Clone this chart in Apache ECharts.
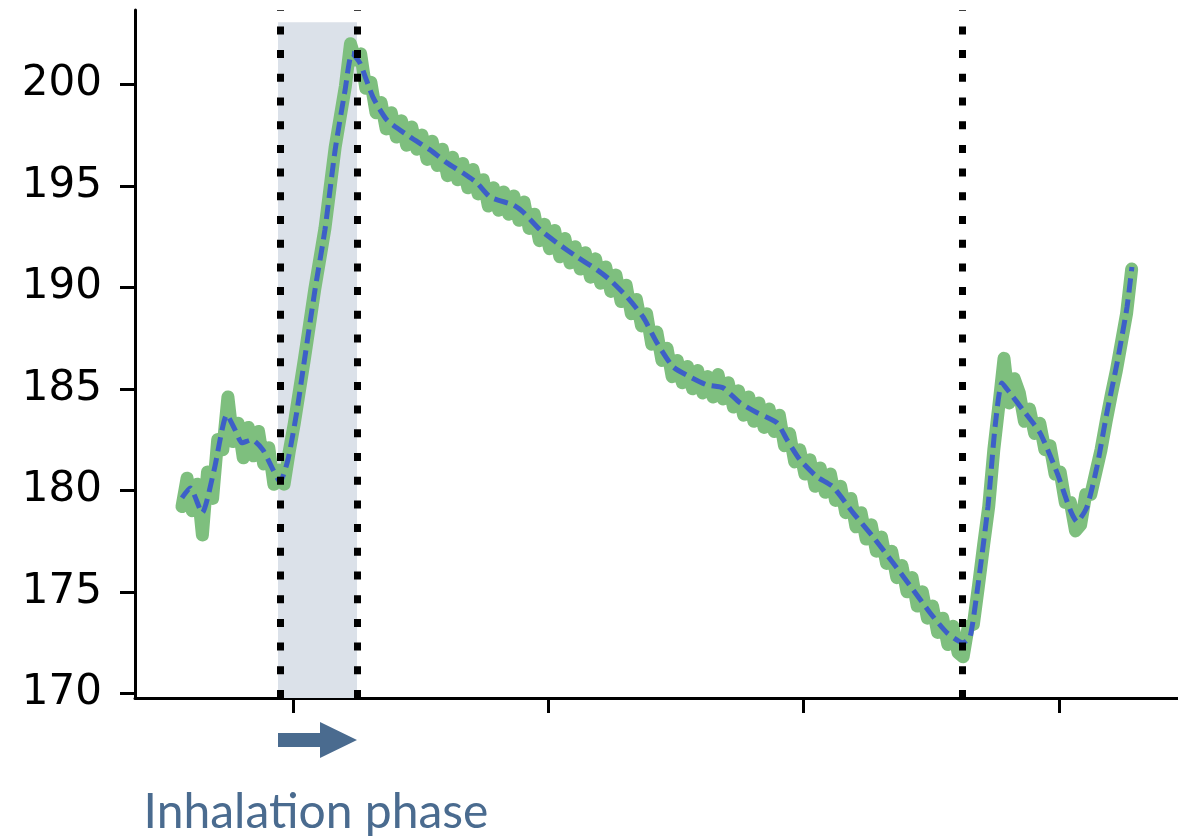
<!DOCTYPE html>
<html><head><meta charset="utf-8">
<script src="https://cdn.jsdelivr.net/npm/echarts@6/dist/echarts.min.js"></script>
<style>html,body{margin:0;padding:0;background:#fff}#c{width:1178px;height:839px}</style>
</head><body><div id="c"></div>
<script>
// y tick values and (unlabelled) x tick positions
const yTicks = [170,175,180,185,190,195,200];
const xTicks = [1,2,3,4];

// smoothed (blue dashed) signal
const smoothX = [0.565,0.597,0.644,0.691,0.741,0.773,0.800,0.839,0.882,0.922,0.949,0.980,1.016,1.039,1.086,1.125,1.165,1.204,1.231,1.262,1.313,1.368,1.458,1.537,1.603,1.666,1.721,1.772,1.862,1.901,1.968,2.034,2.112,2.191,2.242,2.308,2.371,2.426,2.489,2.555,2.622,2.684,2.751,2.818,2.896,2.935,2.986,3.053,3.115,3.194,3.272,3.350,3.429,3.495,3.562,3.624,3.652,3.679,3.722,3.750,3.777,3.808,3.859,3.926,3.993,4.044,4.071,4.110,4.149,4.188,4.228,4.267,4.286];
const smoothY = [179.63,180.12,178.89,181.01,183.72,182.98,182.34,182.49,181.99,181.01,180.42,181.50,183.96,185.93,189.87,192.83,196.77,199.72,201.54,201.05,199.37,198.24,197.41,196.77,196.13,195.63,195.14,194.45,194.06,193.71,192.83,192.19,191.50,190.86,190.36,189.53,188.54,187.26,186.08,185.59,185.19,185.05,184.31,183.82,183.32,182.49,181.50,180.66,180.17,178.89,177.71,176.43,175.10,173.97,172.98,172.49,172.79,174.95,179.19,183.13,185.29,184.80,183.96,182.83,180.86,179.04,178.45,179.19,181.16,183.82,186.28,189.04,191.00];

// raw (green) signal, sampled every rawStep from rawStart
const rawStart = 0.565, rawStep = 0.02;
const rawY = [
179.2,180.6,179.0,180.3,177.8,180.9,179.6,182.5,182.0,184.6,
182.4,183.3,181.6,183.1,181.7,182.9,181.3,182.1,180.3,181.0,
180.3,181.9,183.3,184.9,186.5,188.2,189.9,191.4,192.9,194.9,
196.9,198.4,199.9,202.0,201.2,201.5,199.8,200.1,198.6,199.1,
197.8,198.6,197.4,198.2,197.0,197.9,196.8,197.5,196.3,197.2,
196.0,196.8,195.5,196.4,195.3,196.1,194.9,195.8,194.6,195.3,
194.0,194.9,193.8,194.7,193.6,194.5,193.3,194.2,192.9,193.6,
192.3,193.1,191.9,192.8,191.5,192.4,191.2,192.0,190.9,191.7,
190.5,191.4,190.2,191.0,189.8,190.6,189.3,190.1,188.7,189.4,
188.1,188.7,187.2,187.8,186.4,187.0,185.6,186.4,185.3,186.1,
185.0,185.9,184.8,185.6,184.6,185.7,184.5,185.3,184.1,184.9,
183.7,184.6,183.4,184.3,183.1,184.0,182.9,183.7,182.2,182.8,
181.4,182.0,180.8,181.5,180.2,181.1,179.9,180.8,179.5,180.2,
178.9,179.6,178.2,178.9,177.6,178.3,177.0,177.7,176.4,177.0,
175.7,176.3,175.0,175.7,174.3,175.0,173.7,174.3,173.0,173.7,
172.4,173.3,172.0,171.8,173.3,173.4,175.3,177.3,179.2,182.0,
184.2,186.5,184.3,185.5,184.8,183.4,184.0,182.8,183.3,182.0,
182.2,180.8,180.9,179.4,179.4,178.0,178.3,179.8,179.8,180.9,
182.0,183.4,184.7,185.9,187.3,188.7,190.9];

// phase markers
const phaseLines = [0.949, 1.247, 3.624];
const inhalation = [0.9412, 1.2507];
const inhalationTop = 203.06;
const annotation = 'Inhalation phase';

const yMin = 169.77, yMax = 203.66, xMin = 0.381, xMax = 4.4665;

const chart = echarts.init(document.getElementById('c'), null, {renderer:'canvas'});
const rawData = rawY.map((v,i)=>[rawStart + i*rawStep, v]);
const smoothData = smoothX.map((x,i)=>[x, smoothY[i]]);
const accent = '#4a6b8f';

chart.setOption({
  animation:false,
  backgroundColor:'#ffffff',
  grid:{left:135, right:0, top:10, bottom:141},
  xAxis:{
    type:'value', min:xMin, max:xMax,
    axisLine:{lineStyle:{color:'#000', width:3}},
    axisTick:{show:true, customValues:xTicks, length:15, lineStyle:{color:'#000', width:3}},
    axisLabel:{show:false},
    splitLine:{show:false}
  },
  yAxis:{
    type:'value', min:yMin, max:yMax,
    axisLine:{show:true, lineStyle:{color:'#000', width:3}},
    axisTick:{show:true, customValues:yTicks, length:15, lineStyle:{color:'#000', width:3}},
    axisLabel:{customValues:yTicks, fontSize:42, fontFamily:'DejaVu Sans', color:'#000', margin:33},
    splitLine:{show:false}
  },
  series:[
    {
      type:'line', data:[], z:1, silent:true,
      markArea:{silent:true, itemStyle:{color:'#dbe1e9'},
        data:[[{xAxis:inhalation[0], yAxis:yMin},{xAxis:inhalation[1], yAxis:inhalationTop}]]}
    },
    {
      type:'line', data:rawData, showSymbol:false, z:3, silent:true,
      lineStyle:{color:'#7ebf7e', width:13, join:'round', cap:'round'}
    },
    {
      type:'line', data:smoothData, showSymbol:false, z:4, silent:true, smooth:0.2,
      lineStyle:{color:'#3d5fc8', width:5, type:[14,7]}
    },
    {
      type:'line', data:[], z:5, silent:true,
      markLine:{silent:true, symbol:['none','none'], label:{show:false},
        lineStyle:{color:'#000', width:7, type:[8,15.7], cap:'butt'},
        emphasis:{disabled:true},
        data:phaseLines.map(v=>({xAxis:v}))}
    }
  ],
  graphic:[
    {type:'polygon', shape:{points:[[278,733],[320,733],[320,722],[357,740],[320,758],[320,747],[278,747]]}, style:{fill:accent}},
    {type:'text', x:316, y:813, style:{text:annotation, font:'48px Lato', fill:accent, align:'center', verticalAlign:'middle'}}
  ]
});
</script></body></html>
